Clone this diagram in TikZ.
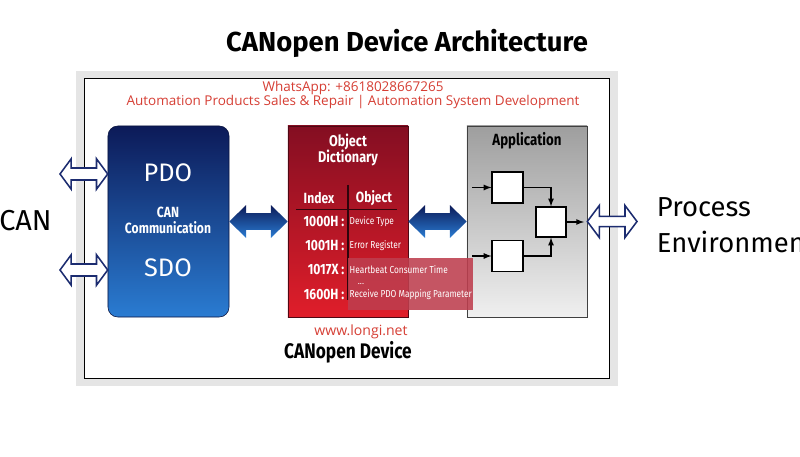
\documentclass[tikz,border=0pt]{standalone}
\usepackage{fontspec}
\setmainfont{Fira Sans}
\newfontfamily\narrowfont{Fira Sans}[FakeStretch=0.82]
\newfontfamily\wmfont{Open Sans}
\usetikzlibrary{calc}

\definecolor{navy}{RGB}{12,26,88}
\definecolor{canblue}{RGB}{42,124,210}
\definecolor{odtop}{RGB}{132,14,34}
\definecolor{odbot}{RGB}{224,30,42}
\definecolor{wmred}{RGB}{214,62,52}
\definecolor{outline}{RGB}{28,44,112}
\definecolor{odlight}{RGB}{190,62,78}

% horizontal double arrow: [style]{left}{right}{shaft half}{head half}{head length}
\newcommand\dblarrow[6][]{%
  \path[#1] let \p1=(#2), \p2=(#3) in
    (\x1,\y1) -- (\x1+#6,\y1+#5) -- (\x1+#6,\y1+#4) -- (\x2-#6,\y1+#4)
    -- (\x2-#6,\y1+#5) -- (\x2,\y1) -- (\x2-#6,\y1-#5) -- (\x2-#6,\y1-#4)
    -- (\x1+#6,\y1-#4) -- (\x1+#6,\y1-#5) -- cycle;}

\begin{document}
\begin{tikzpicture}[x=0.025cm, y=-0.025cm, >=latex,
    box/.style={draw, rectangle, inner sep=0pt, minimum width=3cm, minimum height=4.775cm},
    smallbox/.style={draw, fill=white, rectangle, inner sep=0pt, minimum size=0.77cm, line width=0.9pt},
    hollow/.style={draw=outline, fill=white, line width=1.1pt},
    solidarrow/.style={top color=navy, bottom color=canblue},
    lbl/.style={text=white, inner sep=1pt}]
\useasboundingbox (0,0) rectangle (800,457);
\node[font=\bfseries\fontsize{19.5}{23}\selectfont] (title) at (407,43) {CANopen Device Architecture};

\fill[black!10] (76,71) rectangle (618,386);
\draw[line width=1.3pt, fill=white] (84.5,78.5) rectangle (609.5,378.5);
\node[text=wmred, align=center, font=\wmfont\fontsize{9.6}{10.6}\selectfont] (wm) at (353,95)
  {WhatsApp: +8618028667265\\Automation Products Sales \& Repair | Automation System Development};

\node[box, minimum width=3.025cm, rounded corners=7pt, draw=navy!70!black, top color=navy, bottom color=canblue] (cancomm) at (168.5,221.5) {};
\node[box, draw=odtop!60!black, top color=odtop, bottom color=odbot] (objdict) at (348,221.5) {};
\node[box, draw=black!75, top color=black!38, bottom color=black!6] (app) at (527,221.5) {};

\node[anchor=west, inner sep=0pt, font=\fontsize{20.5}{25}\selectfont] (can) at (-1,221) {CAN};
\coordinate (canA) at (60,174);
\coordinate (canB) at (60,270);
\dblarrow[hollow]{canA}{cancomm.west}{0.15cm}{0.38cm}{0.28cm}
\dblarrow[hollow]{canB}{cancomm.west}{0.15cm}{0.38cm}{0.28cm}

\node[lbl, font=\fontsize{18}{20}\selectfont] (pdo) at (168,173) {PDO};
\node[lbl, align=center, font=\narrowfont\bfseries\fontsize{10.5}{11.3}\selectfont] (comm) at (168,220) {CAN\\Communication};
\node[lbl, font=\fontsize{18}{20}\selectfont] (sdo) at (168,268) {SDO};

\dblarrow[solidarrow]{cancomm.east}{objdict.west}{0.21cm}{0.41cm}{0.42cm}
\dblarrow[solidarrow]{objdict.east}{app.west}{0.21cm}{0.41cm}{0.42cm}

\node[lbl, align=center, font=\narrowfont\bfseries\fontsize{11}{12}\selectfont] (odtitle) at (348,150) {Object\\Dictionary};
\node[lbl, font=\narrowfont\bfseries\fontsize{10.5}{12}\selectfont] (idxhead) at (319,198) {Index};
\node[lbl, font=\narrowfont\bfseries\fontsize{10.5}{12}\selectfont] (objhead) at (374,198) {Object};
\draw[odtop!35!black, line width=1.2pt] (296,209.5) -- (397,209.5);
\draw[odtop!35!black, line width=1.2pt] (348,185) -- (348,300);
\fill[odlight, opacity=0.88] (348,258) rectangle (473,310);
\foreach \y/\idx/\obj in {222/1000H/Device Type, 246/1001H/Error Register,
    270/1017X/Heartbeat Consumer Time, 295/1600H/Receive PDO Mapping Parameter} {
  \node[lbl, anchor=east, font=\narrowfont\bfseries\fontsize{10.5}{12}\selectfont] (idx-\idx) at (346,\y) {\idx\ :};
  \node[lbl, anchor=west, font=\narrowfont\fontsize{7.2}{9}\selectfont] (obj-\idx) at (348,\y) {\obj};
}
\node[lbl, inner sep=0pt, font=\fontsize{6}{6}\selectfont] (dots) at (361,284) {...};

\node[font=\narrowfont\bfseries\fontsize{11.5}{13}\selectfont] (apptitle) at (527,141) {Application};
\node[smallbox] (b1) at (507.5,187.5) {};
\node[smallbox] (b2) at (507.5,256) {};
\node[smallbox, minimum size=0.75cm] (b3) at (551,222) {};
\coordinate (in1) at (472,187.5);
\coordinate (in2) at (472,256);
\coordinate (out) at (584,222);
\draw[->, line width=0.9pt] (in1) -- (b1.west);
\draw[->, line width=0.9pt] (in2) -- (b2.west);
\draw[->, line width=0.9pt] (b1.east) -| (b3.north);
\draw[->, line width=0.9pt] (b2.east) -| (b3.south);
\draw[->, line width=0.9pt] (b3.east) -- (out);

\coordinate (proc) at (637,222);
\dblarrow[hollow]{app.east}{proc}{0.13cm}{0.4cm}{0.3cm}
\node[anchor=west, align=left, font=\fontsize{19.5}{25.5}\selectfont] (env) at (652,225) {Process\\Environment};

\node[text=wmred, font=\wmfont\fontsize{10}{11}\selectfont] (web) at (361,332) {www.longi.net};
\node[font=\narrowfont\bfseries\fontsize{15}{17}\selectfont] (devlabel) at (348,352) {CANopen Device};
\end{tikzpicture}
\end{document}
